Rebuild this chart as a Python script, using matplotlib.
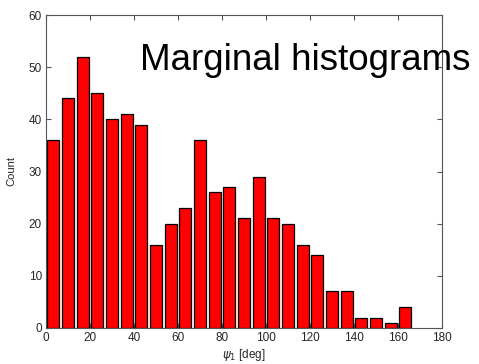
import matplotlib
matplotlib.use("Agg")
import matplotlib.pyplot as plt
import numpy as np

# bin counts (bins of 180/27 deg)
bin_width = 180 / 27
counts = [36, 44, 52, 45, 40, 41, 39, 16, 20, 23, 36, 26, 27, 21, 29,
          21, 20, 16, 14, 7, 7, 2, 2, 1, 4]
centers = bin_width / 2 + bin_width * np.arange(len(counts))

x_ticks = [0, 20, 40, 60, 80, 100, 120, 140, 160, 180]
y_ticks = [0, 10, 20, 30, 40, 50, 60]

plt.rcParams['font.family'] = ['Liberation Sans', 'DejaVu Sans']

fig = plt.figure(figsize=(4.79, 3.64), dpi=100)
ax = fig.add_axes([46 / 479, 36 / 364, 396 / 479, 313 / 364])

ax.bar(centers, counts, width=0.8 * bin_width, color='#ff0000',
       edgecolor='black', linewidth=0.9, zorder=2)

ax.set_xlim(0, 180)
ax.set_ylim(0, 60)
ax.set_xticks(x_ticks)
ax.set_yticks(y_ticks)

gray = '#262626'
for s in ax.spines.values():
    s.set_color('#555555')
    s.set_linewidth(0.8)
ax.tick_params(direction='in', top=True, right=True, length=3.5,
               width=0.8, color='#555555', labelsize=8.5, labelcolor=gray, pad=3)

ax.set_xlabel(r'$\psi_1$ [deg]', fontsize=8.5, color=gray, labelpad=2)
ax.set_ylabel('Count', fontsize=8, color=gray, labelpad=9)

ax.text(42.5, 49.5, 'Marginal histograms', fontsize=26.5, color='black',
        clip_on=False, zorder=5)

fig.savefig('out.png', dpi=100)
